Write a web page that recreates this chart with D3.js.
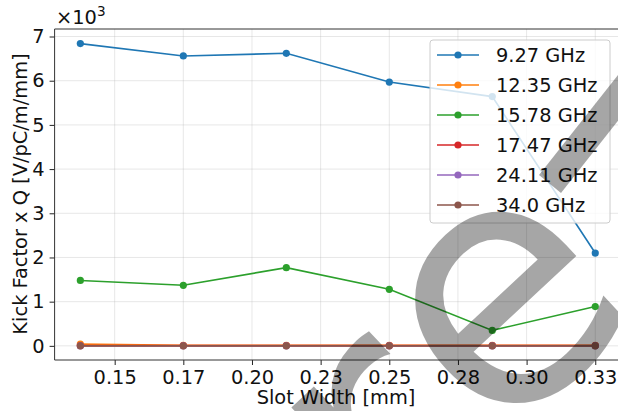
<!DOCTYPE html>
<html><head><meta charset="utf-8">
<script src="https://cdn.jsdelivr.net/npm/d3@7/dist/d3.min.js"></script>
<style>
body{margin:0;background:#fff;}
svg{display:block;font-family:"DejaVu Sans",sans-serif;}
#wrap{position:relative;width:618px;height:411px;}
#wm{position:absolute;left:0;top:0;pointer-events:none;}
</style></head>
<body><div id="wrap"><svg id="c" width="618" height="411"></svg><canvas id="wm" width="618" height="411"></canvas></div>
<script>
const slotWidth = [0.1375, 0.175, 0.2125, 0.25, 0.2875, 0.325];
const seriesNames = ["9.27 GHz", "12.35 GHz", "15.78 GHz", "17.47 GHz", "24.11 GHz", "34.0 GHz"];
const kick_9_27  = [6840, 6560, 6620, 5970, 5640, 2100];
const kick_12_35 = [40, 10, 10, 10, 10, 10];
const kick_15_78 = [1480, 1370, 1770, 1280, 350, 890];
const kick_17_47 = [5, 5, 5, 5, 5, 5];
const kick_24_11 = [3, 3, 3, 3, 3, 3];
const kick_34_0  = [0, 0, 0, 0, 0, 0];
const colors = ["#1f77b4", "#ff7f0e", "#2ca02c", "#d62728", "#9467bd", "#8c564b"];
const xTicks = [0.15, 0.175, 0.2, 0.225, 0.25, 0.275, 0.3, 0.325];
const xTickLabels = ["0.15", "0.17", "0.20", "0.23", "0.25", "0.28", "0.30", "0.33"];
const yTicks = [0, 1000, 2000, 3000, 4000, 5000, 6000, 7000];
const yTickLabels = ["0", "1", "2", "3", "4", "5", "6", "7"];
const allSeries = [kick_9_27, kick_12_35, kick_15_78, kick_17_47, kick_24_11, kick_34_0];

const svg = d3.select("#c");
const L = 54.6, R = 621, T = 29, B = 360;
const x = d3.scaleLinear().domain([0.128125, 0.334375]).range([L, R]);
const y = d3.scaleLinear().domain([-320, 7170]).range([B, T]);
const FS = 19.4;

const grid = svg.append("g");
grid.selectAll("line.gx").data(xTicks).join("line")
  .attr("x1", d => x(d)).attr("x2", d => x(d)).attr("y1", T).attr("y2", B)
  .attr("stroke", "#b0b0b0").attr("stroke-opacity", 0.3).attr("stroke-width", 1);
grid.selectAll("line.gy").data(yTicks).join("line")
  .attr("y1", d => y(d)).attr("y2", d => y(d)).attr("x1", L).attr("x2", R)
  .attr("stroke", "#b0b0b0").attr("stroke-opacity", 0.3).attr("stroke-width", 1);

const xAxis = d3.axisBottom(x).tickValues(xTicks).tickSizeOuter(0).tickSize(5).tickPadding(5)
  .tickFormat((d, i) => xTickLabels[i]);
const yAxis = d3.axisLeft(y).tickValues(yTicks).tickSizeOuter(0).tickSize(5).tickPadding(5)
  .tickFormat((d, i) => yTickLabels[i]);
const gx = svg.append("g").attr("transform", `translate(0,${B})`).call(xAxis);
const gy = svg.append("g").attr("transform", `translate(${L},0)`).call(yAxis);
[gx, gy].forEach(g => {
  g.select(".domain").remove();
  g.selectAll(".tick line").attr("stroke", "#222").attr("stroke-width", 1);
  g.selectAll(".tick text").attr("fill", "#111").style("font-size", FS + "px").style("font-family", "DejaVu Sans");
});
gx.selectAll(".tick text").attr("dy", "0.71em");

svg.append("line").attr("x1", L).attr("x2", L).attr("y1", T).attr("y2", B).attr("stroke", "#333").attr("stroke-width", 1);
svg.append("line").attr("x1", L).attr("x2", R).attr("y1", B).attr("y2", B).attr("stroke", "#333").attr("stroke-width", 1);
svg.append("line").attr("x1", L).attr("x2", R).attr("y1", T).attr("y2", T).attr("stroke", "#333").attr("stroke-width", 1);

const line = d3.line().x((d, i) => x(slotWidth[i])).y(d => y(d));
allSeries.forEach((s, k) => {
  const g = svg.append("g");
  g.append("path").datum(s).attr("d", line).attr("fill", "none")
    .attr("stroke", colors[k]).attr("stroke-width", 1.6);
  g.selectAll("circle").data(s).join("circle")
    .attr("cx", (d, i) => x(slotWidth[i])).attr("cy", d => y(d)).attr("r", 3.6)
    .attr("fill", colors[k]);
});

svg.append("text").attr("x", 336).attr("y", 404).attr("text-anchor", "middle")
  .style("font-size", FS + "px").attr("fill", "#111").text("Slot Width [mm]");
svg.append("text").attr("transform", "translate(27,194) rotate(-90)").attr("text-anchor", "middle")
  .style("font-size", FS + "px").attr("fill", "#111").text("Kick Factor x Q [V/pC/m/mm]");
const off = svg.append("text").attr("x", 56).attr("y", 24).style("font-size", FS + "px").attr("fill", "#111");
off.append("tspan").text("×10");
off.append("tspan").attr("dy", -8).style("font-size", "13.6px").text("3");

const lg = svg.append("g");
lg.append("rect").attr("x", 430).attr("y", 40).attr("width", 180).attr("height", 183).attr("rx", 3)
  .attr("fill", "#fff").attr("fill-opacity", 0.8).attr("stroke", "#cccccc").attr("stroke-width", 1);
seriesNames.forEach((n, k) => {
  const cy = 55 + k * 30;
  lg.append("line").attr("x1", 437).attr("x2", 479).attr("y1", cy).attr("y2", cy)
    .attr("stroke", colors[k]).attr("stroke-width", 1.6);
  lg.append("circle").attr("cx", 458).attr("cy", cy).attr("r", 3.6).attr("fill", colors[k]);
  lg.append("text").attr("x", 496).attr("y", cy + 7).style("font-size", FS + "px").attr("fill", "#111").text(n);
});

// gray watermark overlay (a picture element in the reference, drawn on a canvas)
const ctx = document.getElementById("wm").getContext("2d");
ctx.fillStyle = "rgba(0,0,0,0.35)";
ctx.font = "340px 'DejaVu Sans'";
ctx.save();
ctx.translate(495, 449);
ctx.rotate(-43 * Math.PI / 180);
ctx.fillText("e", 0, 0);
ctx.restore();
ctx.save();
ctx.translate(498, 469);
ctx.rotate(-43 * Math.PI / 180);
ctx.fillText("r", -140, 0);
ctx.restore();
ctx.beginPath();
ctx.moveTo(561, 193); ctx.lineTo(539, 175); ctx.lineTo(629, 61); ctx.lineTo(651, 79);
ctx.closePath();
ctx.fill();
</script></body></html>
